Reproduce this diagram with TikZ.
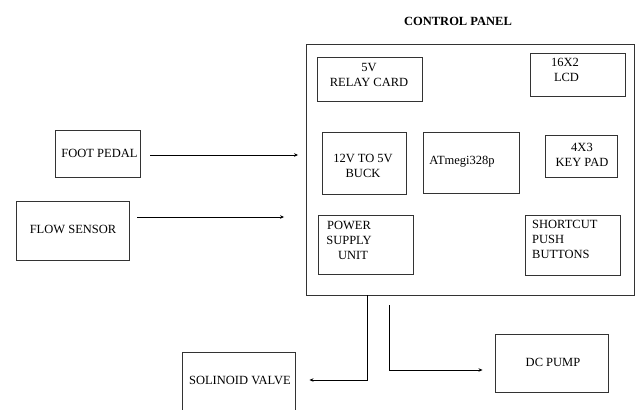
\documentclass[tikz,border=0pt]{standalone}
\usepackage{fontspec}
\setmainfont{Liberation Serif}
\usetikzlibrary{arrows.meta,calc}
\begin{document}
\begin{tikzpicture}[x=1pt,y=-1pt,
  box/.style={draw=black!80,line width=0.9pt,inner sep=0pt},
  txt/.style={font=\fontsize{12.5}{15}\selectfont,inner sep=0pt,align=center},
  arr/.style={line width=0.9pt,-{Stealth[length=4pt,width=3.5pt]}},
  ln/.style={line width=0.9pt}]
\useasboundingbox (0,0) rectangle (636,409);
\clip (0,0) rectangle (636,409);
% control panel
\node[box,minimum width=328pt,minimum height=251pt] (cp) at (470.5,169.5) {};
\node[font=\bfseries\fontsize{12.5}{14}\selectfont,inner sep=0pt] (title) at (458,21) {CONTROL PANEL};
% inner boxes
\node[box,minimum width=105pt,minimum height=44pt] (relay) at (369.5,79) {};
\node[txt] (relayt) at (369,74.5) {5V\\RELAY CARD};
\node[box,minimum width=95pt,minimum height=43pt] (lcd) at (577.5,74.5) {};
\node[txt,align=left] (lcdt) at (565,70) {16X2\\\hspace*{3pt}LCD};
\node[box,minimum width=84pt,minimum height=62pt] (buck) at (364,163) {};
\node[txt] (buckt) at (363,166) {12V TO 5V\\BUCK};
\node[box,minimum width=96pt,minimum height=61pt] (mcu) at (471,162.5) {};
\node[txt] (mcut) at (462,162) {ATmegi328p};
\node[box,minimum width=72pt,minimum height=42pt] (key) at (581,156) {};
\node[txt] (keyt) at (582,154.5) {4X3\\KEY PAD};
\node[box,minimum width=95pt,minimum height=59pt] (psu) at (365.5,244.5) {};
\node[txt] (psut) at (349,240) {POWER\\SUPPLY\\\hspace*{8pt}UNIT};
\node[box,minimum width=95pt,minimum height=60pt] (sc) at (572.5,245) {};
\node[txt,align=left,anchor=west] (sct) at (532,239) {SHORTCUT\\PUSH\\BUTTONS};
% left inputs
\node[box,minimum width=85pt,minimum height=47pt] (fp) at (97.5,153.5) {};
\node[txt] (fpt) at (99.5,153) {FOOT PEDAL};
\node[box,minimum width=113pt,minimum height=59pt] (fs) at (72.5,230.5) {};
\node[txt] (fst) at (73,229) {FLOW SENSOR};
% outputs
\node[box,minimum width=113pt,minimum height=70pt] (sv) at (238.5,387) {};
\node[txt] (svt) at (240,380) {SOLINOID VALVE};
\node[box,minimum width=113pt,minimum height=58pt] (dc) at (551.5,363) {};
\node[txt] (dct) at (553,362) {DC PUMP};
% connectors
\coordinate (fpa) at ($(fp.east)+(10,1.5)$);
\coordinate (fpb) at ($(fp.east -| cp.west)+(-8,1.5)$);
\draw[arr] (fpa) -- (fpb);
\coordinate (fsa) at ($(fs.east)+(8,-13.5)$);
\coordinate (fsb) at ($(fs.east -| cp.west)+(-22,-13.5)$);
\draw[arr] (fsa) -- (fsb);
\coordinate (sva) at ($(cp.south west)+(61,0)$);
\coordinate (svb) at ($(sv.east)+(14,-7)$);
\draw[arr] (sva) |- (svb);
\coordinate (dca) at ($(cp.south west)+(83,10)$);
\coordinate (dcb) at ($(dc.west)+(-12,7)$);
\draw[arr] (dca) |- (dcb);
\end{tikzpicture}
\end{document}
